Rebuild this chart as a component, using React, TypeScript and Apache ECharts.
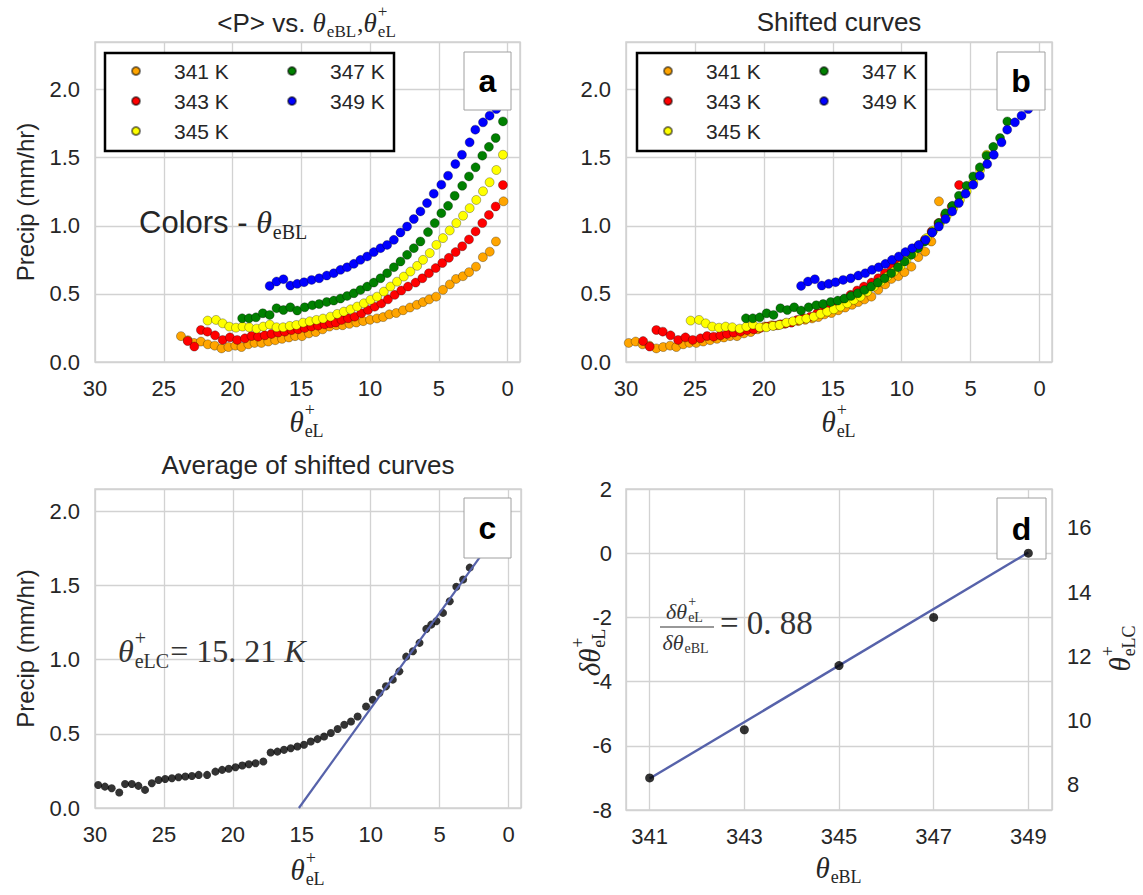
import React, { useEffect, useRef } from 'react';
import * as echarts from 'echarts';

// ---------------- data ----------------
const SERIES_NAMES = ['341 K', '343 K', '345 K', '347 K', '349 K'];
const SERIES_COLORS = ['#FFA500', '#FF0000', '#FFFF00', '#008000', '#0000FF'];
const THETA_EBL = [341, 343, 345, 347, 349];
// shift of each curve (panel d, left axis)
const DELTA_THETA = [-7.0, -5.5, -3.5, -2.0, 0.0];
const DELTA_FIT = [[341, -7.02], [349, 0.02]];
const THETA_ELC_OFFSET = 15.21;

const A_341 = [[23.75,0.19],[23.25,0.16],[22.8,0.14],[22.3,0.15],[21.8,0.13],[21.3,0.12],[20.8,0.10],[20.3,0.11],[19.8,0.12],[19.35,0.11],[18.85,0.13],[18.4,0.14],[17.9,0.14],[17.4,0.15],[16.9,0.16],[16.4,0.17],[15.9,0.18],[15.45,0.19],[14.95,0.19],[14.45,0.21],[13.95,0.22],[13.45,0.24],[12.95,0.26],[12.45,0.27],[12.0,0.27],[11.5,0.28],[11.0,0.29],[10.5,0.30],[10.0,0.31],[9.5,0.32],[9.05,0.33],[8.6,0.35],[8.1,0.36],[7.6,0.38],[7.1,0.40],[6.6,0.42],[6.15,0.44],[5.7,0.46],[5.2,0.48],[4.7,0.53],[4.2,0.57],[3.75,0.61],[3.25,0.63],[2.8,0.66],[2.3,0.70],[1.8,0.77],[1.3,0.81],[0.85,0.885],[0.3,1.18]];
const A_343 = [[23.26,0.154],[22.78,0.113],[22.3,0.235],[21.83,0.223],[21.27,0.196],[20.72,0.162],[20.19,0.181],[19.66,0.162],[19.1,0.174],[18.62,0.191],[18.14,0.186],[17.65,0.196],[17.17,0.206],[16.68,0.216],[16.2,0.223],[15.72,0.235],[15.23,0.24],[14.75,0.25],[14.26,0.26],[13.78,0.267],[13.3,0.277],[12.9,0.284],[12.5,0.29],[12.08,0.309],[11.6,0.321],[11.12,0.333],[10.63,0.358],[10.15,0.382],[9.66,0.406],[9.18,0.43],[8.7,0.46],[8.21,0.493],[7.73,0.525],[7.24,0.554],[6.69,0.583],[6.2,0.615],[5.72,0.652],[5.23,0.69],[4.75,0.727],[4.27,0.765],[3.78,0.807],[3.3,0.85],[2.81,0.9],[2.33,0.959],[1.84,1.02],[1.36,1.08],[0.87,1.142],[0.34,1.3]];
const A_345 = [[21.81,0.304],[21.2,0.309],[20.72,0.284],[20.24,0.26],[19.75,0.252],[19.27,0.26],[18.79,0.255],[18.25,0.245],[17.77,0.26],[17.29,0.275],[16.8,0.255],[16.32,0.255],[15.84,0.265],[15.36,0.272],[14.87,0.289],[14.39,0.299],[13.9,0.309],[13.42,0.319],[12.88,0.333],[12.39,0.353],[11.91,0.37],[11.42,0.387],[10.94,0.407],[10.45,0.431],[9.97,0.456],[9.49,0.48],[9.0,0.517],[8.52,0.554],[8.04,0.59],[7.55,0.627],[7.07,0.664],[6.58,0.706],[6.15,0.75],[5.66,0.8],[5.18,0.86],[4.7,0.91],[4.21,0.966],[3.73,1.02],[3.24,1.074],[2.76,1.13],[2.28,1.19],[1.79,1.254],[1.31,1.32],[0.82,1.41],[0.34,1.522]];
const A_347 = [[19.3,0.321],[18.8,0.321],[18.3,0.328],[17.8,0.358],[17.3,0.346],[16.8,0.395],[16.3,0.382],[15.8,0.402],[15.3,0.378],[14.75,0.402],[14.2,0.417],[13.7,0.426],[13.15,0.441],[12.64,0.451],[12.15,0.466],[11.67,0.485],[11.18,0.505],[10.7,0.529],[10.21,0.554],[9.73,0.583],[9.24,0.615],[8.76,0.652],[8.27,0.696],[7.79,0.738],[7.31,0.787],[6.82,0.836],[6.34,0.885],[5.79,0.954],[5.3,1.02],[4.82,1.093],[4.33,1.147],[3.85,1.221],[3.3,1.294],[2.81,1.363],[2.33,1.43],[1.84,1.515],[1.36,1.58],[0.87,1.645],[0.34,1.767]];
const A_349 = [[17.3,0.559],[16.8,0.591],[16.3,0.608],[15.8,0.561],[15.3,0.574],[14.8,0.586],[14.25,0.603],[13.7,0.615],[13.15,0.635],[12.64,0.652],[12.15,0.677],[11.67,0.696],[11.18,0.721],[10.7,0.75],[10.21,0.775],[9.73,0.807],[9.24,0.836],[8.76,0.86],[8.27,0.897],[7.79,0.951],[7.31,0.995],[6.82,1.05],[6.34,1.106],[5.86,1.167],[5.37,1.236],[4.82,1.302],[4.33,1.368],[3.8,1.454],[3.32,1.522],[2.76,1.613],[2.35,1.706],[1.79,1.76],[1.31,1.809],[0.82,1.858],[0.34,1.95]];
const PANEL_A = [A_341, A_343, A_345, A_347, A_349];

const C_AVG = [[29.77,0.155],[29.28,0.144],[28.79,0.133],[28.24,0.104],[27.82,0.162],[27.33,0.162],[26.85,0.149],[26.37,0.122],[25.88,0.167],[25.39,0.189],[24.91,0.196],[24.42,0.2],[23.94,0.207],[23.45,0.212],[22.97,0.216],[22.48,0.223],[21.87,0.223],[21.27,0.245],[20.78,0.257],[20.3,0.264],[19.81,0.275],[19.32,0.286],[18.84,0.295],[18.35,0.302],[17.79,0.313],[17.26,0.374],[16.77,0.38],[16.29,0.392],[15.8,0.403],[15.32,0.414],[14.84,0.426],[14.35,0.448],[13.86,0.464],[13.38,0.482],[12.89,0.505],[12.4,0.532],[11.92,0.561],[11.43,0.583],[10.95,0.617],[10.34,0.684],[9.85,0.73],[9.37,0.775],[8.89,0.82],[8.4,0.865],[7.92,0.921],[7.43,1.02],[6.94,1.056],[6.46,1.113],[5.97,1.207],[5.61,1.236],[5.24,1.259],[4.76,1.315],[4.27,1.394],[3.79,1.491],[3.3,1.54],[2.82,1.62]];
const C_FIT = [[15.21, 0], [1.9, 1.715]];

// ---------------- style ----------------
const SANS = '"Liberation Sans", Arial, sans-serif';
const SERIF = '"Liberation Serif", "DejaVu Serif", serif';
const TXT = '#262626';
const GRIDC = '#d2d2d2';
const FIT_COLOR = '#5662AA';

let _ctx: any = null;
function measure(text: string, font: string): number {
  if (!_ctx) _ctx = document.createElement('canvas').getContext('2d');
  _ctx.font = font;
  return _ctx.measureText(text).width;
}

type Tok = { t?: string; sup?: string; sub?: string; size: number; fam?: string; it?: boolean; gap?: number };

function mathGroup(toks: Tok[], x: number, y: number, o: { anchor?: string; rotation?: number; color?: string; z?: number } = {}) {
  const color = o.color || TXT;
  const z = o.z ?? 10;
  const kids: any[] = [];
  let cur = 0;
  let lastMain = 26;
  const mk = (text: string, tk: Tok, px: number, py: number) => ({
    type: 'text', x: px, y: py, z, silent: true,
    style: {
      text, fill: color, fontSize: tk.size, fontFamily: tk.fam || SERIF,
      fontStyle: tk.it ? 'italic' : 'normal',
      align: 'left', verticalAlign: 'middle', textAlign: 'left', textVerticalAlign: 'middle',
    },
  });
  for (const tk of toks) {
    const font = `${tk.it ? 'italic ' : ''}${tk.size}px ${tk.fam || SERIF}`;
    if (tk.t !== undefined) {
      kids.push(mk(tk.t, tk, cur, 0));
      cur += measure(tk.t, font) + (tk.gap || 0);
      lastMain = tk.size;
    } else {
      const ws = tk.sup ? measure(tk.sup, font) : 0;
      const wb = tk.sub ? measure(tk.sub, font) : 0;
      if (tk.sup) kids.push(mk(tk.sup, tk, cur + 1, -0.42 * lastMain));
      if (tk.sub) kids.push(mk(tk.sub, tk, cur + 1, 0.3 * lastMain));
      cur += Math.max(ws, wb) + 2 + (tk.gap || 0);
    }
  }
  const off = o.anchor === 'left' ? 0 : -cur / 2;
  kids.forEach((k) => (k.x += off));
  return { type: 'group', x, y, rotation: o.rotation || 0, z, children: kids };
}

const near = (v: number, step: number) => Math.abs(v / step - Math.round(v / step)) < 1e-6;

function thetaXAxis(gridIndex: number) {
  return {
    type: 'value', gridIndex, position: 'bottom', min: -0.9, max: 30, inverse: true, splitNumber: 6,
    axisLine: { show: false }, axisTick: { show: false },
    splitLine: { show: true, lineStyle: { color: GRIDC, width: 1.3 } },
    axisLabel: { fontSize: 22, color: TXT, fontFamily: SANS, margin: 15,
      formatter: (v: number) => (near(v, 5) ? String(Math.round(v)) : '') },
  };
}
function precipYAxis(gridIndex: number, max: number, withName: boolean) {
  return {
    type: 'value', gridIndex, min: 0, max, interval: 0.5,
    name: withName ? 'Precip (mm/hr)' : '', nameLocation: 'middle', nameGap: 58, nameRotate: 90,
    nameTextStyle: { fontSize: 24, color: TXT, fontFamily: SANS },
    axisLine: { show: false }, axisTick: { show: false },
    splitLine: { show: true, lineStyle: { color: GRIDC, width: 1.3 } },
    axisLabel: { fontSize: 22, color: TXT, fontFamily: SANS, margin: 15,
      formatter: (v: number) => (near(v, 0.5) ? v.toFixed(1) : '') },
  };
}

function legend(names: string[], left: number) {
  return {
    data: names, orient: 'vertical', left, top: 60.5, padding: 0,
    itemWidth: 8, itemHeight: 8, itemGap: 9, icon: 'circle', selectedMode: false, z: 5,
    textStyle: { fontSize: 21, lineHeight: 21, color: TXT, fontFamily: SANS, padding: [0, 0, 0, 29] },
  };
}

function letterBox(letter: string, x: number, y: number, w: number, h: number) {
  return [
    { type: 'rect', z: 10, silent: true, shape: { x, y, width: w, height: h },
      style: { fill: '#ffffff', stroke: '#a0a0a0', lineWidth: 1 } },
    { type: 'text', z: 11, silent: true, x: x + w / 2, y: y + h / 2,
      style: { text: letter, fill: '#000', fontSize: 32, fontWeight: 'bold', fontFamily: SANS,
        align: 'center', verticalAlign: 'middle', textAlign: 'center', textVerticalAlign: 'middle' } },
  ];
}

function buildOption() {
  const panelB = PANEL_A.map((s, i) => s.map(([x, y]) => [x - DELTA_THETA[i], y]));
  const scatter = (i: number, data: number[][], axis: number) => ({
    type: 'scatter', name: SERIES_NAMES[i], xAxisIndex: axis, yAxisIndex: axis, data,
    symbolSize: 9, clip: true, z: 2,
    itemStyle: { color: SERIES_COLORS[i], borderColor: 'rgba(0,0,0,0.5)', borderWidth: 0.6, opacity: 1 },
  });
  const series: any[] = [];
  PANEL_A.forEach((d, i) => series.push(scatter(i, d, 0)));
  panelB.forEach((d, i) => series.push(scatter(i, d, 1)));
  series.push({ type: 'scatter', name: 'average', xAxisIndex: 2, yAxisIndex: 2, data: C_AVG,
    symbolSize: 8, z: 2, itemStyle: { color: '#000' } });
  series.push({ type: 'line', name: 'fit c', xAxisIndex: 2, yAxisIndex: 2, data: C_FIT, symbol: 'none',
    showSymbol: false, z: 3, lineStyle: { color: FIT_COLOR, width: 2.2 } });
  series.push({ type: 'line', name: 'fit d', xAxisIndex: 3, yAxisIndex: 3, data: DELTA_FIT, symbol: 'none',
    showSymbol: false, z: 12, lineStyle: { color: FIT_COLOR, width: 2.4 } });
  series.push({ type: 'scatter', name: 'shift', xAxisIndex: 3, yAxisIndex: 3,
    data: THETA_EBL.map((t, i) => [t, DELTA_THETA[i]]), symbolSize: 9, z: 13, itemStyle: { color: '#000' } });

  const graphic: any[] = [
    { type: 'rect', z: 3, silent: true, shape: { x: 105, y: 53, width: 289, height: 98 },
      style: { fill: '#fff', stroke: '#000', lineWidth: 2.5 } },
    { type: 'rect', z: 3, silent: true, shape: { x: 637, y: 53, width: 289, height: 98 },
      style: { fill: '#fff', stroke: '#000', lineWidth: 2.5 } },
    ...letterBox('a', 464, 52, 47, 58),
    ...letterBox('b', 997, 52, 48, 58),
    ...letterBox('c', 464, 498, 47, 60),
    ...letterBox('d', 997, 498, 49, 61),
    // title a
    mathGroup([
      { t: '<P> vs. ', size: 26, fam: SANS },
      { t: 'θ', size: 27, it: true }, { sub: 'eBL', size: 17 },
      { t: ',', size: 26 },
      { t: 'θ', size: 27, it: true }, { sup: '+', sub: 'eL', size: 17 },
    ], 307, 23),
    // annotation a
    mathGroup([
      { t: 'Colors - ', size: 31, fam: SANS },
      { t: 'θ', size: 32, it: true }, { sub: 'eBL', size: 20 },
    ], 139, 222, { anchor: 'left' }),
    // x labels
    mathGroup([{ t: 'θ', size: 29, it: true }, { sup: '+', sub: 'eL', size: 18 }], 307, 422),
    mathGroup([{ t: 'θ', size: 29, it: true }, { sup: '+', sub: 'eL', size: 18 }], 839, 422),
    mathGroup([{ t: 'θ', size: 29, it: true }, { sup: '+', sub: 'eL', size: 18 }], 308, 870),
    mathGroup([{ t: 'θ', size: 29, it: true }, { sub: 'eBL', size: 18 }], 839, 868),
    // y labels of d
    mathGroup([{ t: 'δθ', size: 29, it: true }, { sup: '+', sub: 'eL', size: 18 }], 590, 652, { rotation: Math.PI / 2 }),
    mathGroup([{ t: 'θ', size: 29, it: true }, { sup: '+', sub: 'eLC', size: 18 }], 1120, 648, { rotation: Math.PI / 2 }),
    // annotation c
    mathGroup([
      { t: 'θ', size: 32, it: true }, { sup: '+', sub: 'eLC', size: 20 },
      { t: '= 15. 21 ', size: 32 }, { t: 'K', size: 32, it: true },
    ], 118, 651, { anchor: 'left', color: '#333' }),
    // annotation d (fraction)
    mathGroup([{ t: 'δθ', size: 22, it: true }, { sup: '+', sub: 'eL', size: 14 }], 685, 611, { color: '#333' }),
    mathGroup([{ t: 'δθ', size: 22, it: true }, { sub: 'eBL', size: 14 }], 686, 642, { color: '#333' }),
    { type: 'line', z: 10, silent: true, shape: { x1: 660, y1: 627, x2: 714, y2: 627 }, style: { stroke: '#333', lineWidth: 1.2 } },
    mathGroup([{ t: '= 0. 88', size: 33 }], 720, 623, { anchor: 'left', color: '#333' }),
  ];

  const dy = { axisLine: { show: false }, axisTick: { show: false } };

  return {
    animation: false,
    backgroundColor: '#ffffff',
    title: [
      { text: 'Shifted curves', left: 839, top: 22, padding: 0, textAlign: 'center', textVerticalAlign: 'middle',
        textStyle: { fontSize: 26, fontWeight: 'normal', color: TXT, fontFamily: SANS } },
      { text: 'Average of shifted curves', left: 308, top: 465, padding: 0, textAlign: 'center', textVerticalAlign: 'middle',
        textStyle: { fontSize: 26, fontWeight: 'normal', color: TXT, fontFamily: SANS } },
    ],
    legend: [
      legend(SERIES_NAMES.slice(0, 3), 131),
      legend(SERIES_NAMES.slice(3), 287),
      legend(SERIES_NAMES.slice(0, 3), 663),
      legend(SERIES_NAMES.slice(3), 819),
    ],
    grid: [
      { left: 95, top: 42, width: 425, height: 320, show: true, borderColor: GRIDC, borderWidth: 1.5, backgroundColor: 'transparent' },
      { left: 626, top: 42, width: 426, height: 320, show: true, borderColor: GRIDC, borderWidth: 1.5, backgroundColor: 'transparent' },
      { left: 95, top: 489, width: 426, height: 319, show: true, borderColor: GRIDC, borderWidth: 1.5, backgroundColor: 'transparent' },
      { left: 626, top: 489, width: 426, height: 321, show: true, borderColor: GRIDC, borderWidth: 1.5, backgroundColor: 'transparent' },
    ],
    xAxis: [
      thetaXAxis(0),
      thetaXAxis(1),
      thetaXAxis(2),
      { type: 'value', gridIndex: 3, position: 'bottom', min: 340.5, max: 349.5, show: false },
      { type: 'value', gridIndex: 3, position: 'bottom', min: -0.5, max: 8.5, ...dy,
        splitLine: { show: true, lineStyle: { color: GRIDC, width: 1.3 } },
        axisLabel: { fontSize: 22, color: TXT, fontFamily: SANS, margin: 15,
          formatter: (v: number) => (near(v, 1) ? String(Math.round(v) + THETA_EBL[0]) : '') } },
    ],
    yAxis: [
      precipYAxis(0, 2.35, true),
      precipYAxis(1, 2.35, false),
      precipYAxis(2, 2.15, true),
      { type: 'value', gridIndex: 3, position: 'left', min: -8, max: 2, interval: 2, ...dy,
        splitLine: { show: true, lineStyle: { color: GRIDC, width: 1.3 } },
        axisLabel: { fontSize: 22, color: TXT, fontFamily: SANS, margin: 14,
          formatter: (v: number) => (near(v, 2) ? String(Math.round(v)) : '') } },
      { type: 'value', gridIndex: 3, position: 'right', min: -8 + THETA_ELC_OFFSET, max: 2 + THETA_ELC_OFFSET, ...dy,
        splitLine: { show: false },
        axisLabel: { fontSize: 22, color: TXT, fontFamily: SANS, margin: 15,
          formatter: (v: number) => (near(v, 2) ? String(Math.round(v)) : '') } },
    ],
    graphic,
    series,
  };
}

export default function App() {
  const ref = useRef<HTMLDivElement>(null);
  useEffect(() => {
    const chart = echarts.init(ref.current!, undefined, { renderer: 'svg' });
    chart.setOption(buildOption() as any);
    return () => chart.dispose();
  }, []);
  return <div ref={ref} style={{ position: 'absolute', left: 0, top: 0, width: 1143, height: 895, background: '#fff' }} />;
}
